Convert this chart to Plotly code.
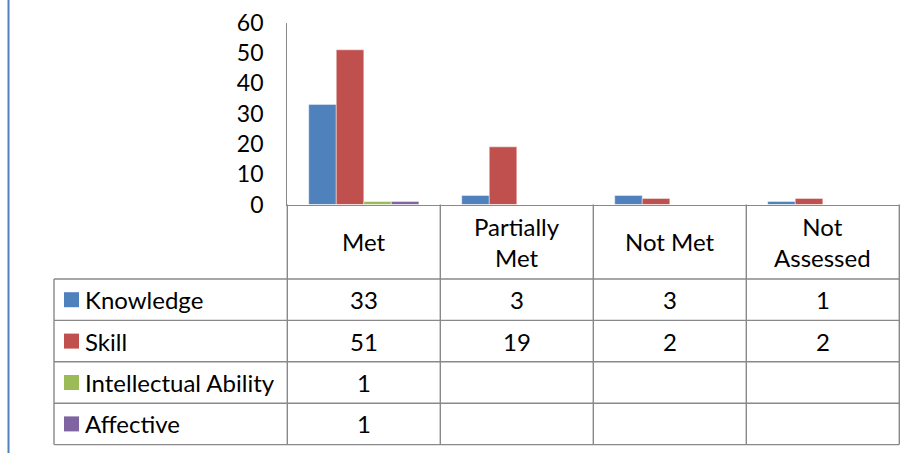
import plotly.graph_objects as go

# ---- data ----
categories = ["Met", "Partially Met", "Not Met", "Not Assessed"]
header_labels = ["Met", "Partially<br>Met", "Not Met", "Not<br>Assessed"]
series_names = ["Knowledge", "Skill", "Intellectual Ability", "Affective"]
knowledge = [33, 3, 3, 1]
skill = [51, 19, 2, 2]
intellectual = [1, None, None, None]
affective = [1, None, None, None]
y_ticks = [0, 10, 20, 30, 40, 50, 60]

series_values = [knowledge, skill, intellectual, affective]
colors = ["#4F81BD", "#C0504D", "#9BBB59", "#8064A2"]

# ---- layout geometry (pixels) ----
W, H = 914, 453
FONT = "Lato"
GRID = "#898989"
plot_left, plot_right = 287.3, 899.3
plot_top, plot_bottom = 22.5, 204.5
col_w = (plot_right - plot_left) / len(categories)
table_left = 54.0
row_top, row_h = 279.0, 41.4
n_rows = len(series_names)


def px_to_col(p):
    return (p - plot_left) / col_w - 0.5


def py_to_row(p):
    return (p - row_top) / row_h


fig = go.Figure()

# grouped bars
for name, vals, c in zip(series_names, series_values, colors):
    fig.add_trace(go.Bar(
        x=categories, y=[v if v is not None else 0 for v in vals],
        name=name, marker=dict(color=c, line=dict(color="rgba(255,255,255,0.55)", width=0.8)),
        xaxis="x", yaxis="y", showlegend=False, hoverinfo="skip",
    ))

# legend keys in the data table
key_x = px_to_col(71.5)
fig.add_trace(go.Scatter(
    x=[key_x] * n_rows, y=[r + 0.5 for r in range(n_rows)],
    mode="markers", marker=dict(symbol="square", size=15, color=colors, line=dict(width=0)),
    xaxis="x2", yaxis="y2", showlegend=False, hoverinfo="skip",
))

shapes = []
header_top = py_to_row(plot_bottom)
left_edge = px_to_col(table_left)
right_edge = len(categories) - 0.5
line = dict(color=GRID, width=1.4)

# horizontal rules of the table
for r in range(n_rows + 1):
    shapes.append(dict(type="line", xref="x2", yref="y2", x0=left_edge, x1=right_edge,
                       y0=r, y1=r, line=line))
# vertical rules
shapes.append(dict(type="line", xref="x2", yref="y2", x0=left_edge, x1=left_edge,
                   y0=0, y1=n_rows, line=line))
for i in range(len(categories) + 1):
    xv = i - 0.5
    shapes.append(dict(type="line", xref="x2", yref="y2", x0=xv, x1=xv,
                       y0=header_top, y1=n_rows, line=line))

# left page rule
shapes.append(dict(type="line", xref="paper", yref="paper", x0=8.5 / W, x1=8.5 / W,
                   y0=0, y1=1, line=dict(color="#4F81BD", width=2)))

annotations = []
text_font = dict(family=FONT, size=24, color="#000000")
for i, lab in enumerate(header_labels):
    annotations.append(dict(xref="x2", yref="y2", x=i, y=header_top / 2, text=lab,
                            showarrow=False, font=text_font, xanchor="center", yanchor="middle"))
label_x = px_to_col(83)
for r, (name, vals) in enumerate(zip(series_names, series_values)):
    annotations.append(dict(xref="x2", yref="y2", x=label_x, y=r + 0.5, text=name,
                            showarrow=False, font=text_font, xanchor="left", yanchor="middle"))
    for i, v in enumerate(vals):
        if v is None:
            continue
        annotations.append(dict(xref="x2", yref="y2", x=i, y=r + 0.5, text=str(v),
                                showarrow=False, font=text_font, xanchor="center", yanchor="middle"))

dom_l, dom_r = 46.0, 906.0
dom_t, dom_b = 198.0, 451.0

fig.update_layout(
    width=W, height=H,
    margin=dict(l=0, r=0, t=0, b=0, pad=0, autoexpand=False),
    paper_bgcolor="white", plot_bgcolor="rgba(0,0,0,0)",
    barmode="group", bargap=0.28, bargroupgap=0,
    font=dict(family=FONT, color="#000000"),
    xaxis=dict(domain=[plot_left / W, plot_right / W], anchor="y", automargin=False,
               showticklabels=False, ticks="", showgrid=False, zeroline=False,
               showline=True, linecolor=GRID, linewidth=1.4,
               range=[-0.5, len(categories) - 0.5]),
    yaxis=dict(domain=[1 - plot_bottom / H, 1 - plot_top / H], anchor="x", automargin=False,
               range=[0, 60], tickvals=y_ticks, ticks="", showgrid=False, zeroline=False,
               showline=True, linecolor=GRID, linewidth=1.4,
               tickfont=dict(family=FONT, size=23, color="#000000"),
               ticklabelstandoff=18),
    xaxis2=dict(domain=[dom_l / W, dom_r / W], anchor="y2", automargin=False,
                range=[px_to_col(dom_l), px_to_col(dom_r)],
                visible=False, fixedrange=True),
    yaxis2=dict(domain=[1 - dom_b / H, 1 - dom_t / H], anchor="x2", automargin=False,
                range=[py_to_row(dom_b), py_to_row(dom_t)],
                visible=False, fixedrange=True),
    shapes=shapes, annotations=annotations,
)

fig.write_html("out.html")
